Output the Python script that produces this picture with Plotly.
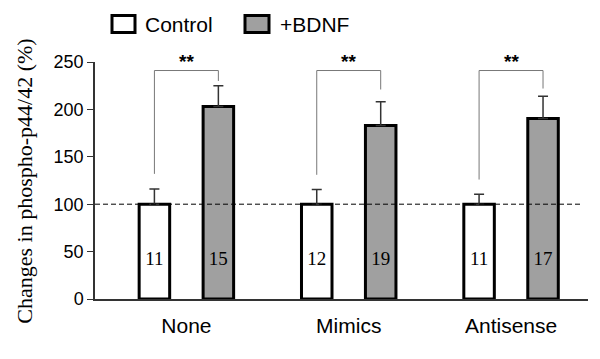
import plotly.graph_objects as go

categories = ["None", "Mimics", "Antisense"]
control_vals = [100, 100, 100]
control_err = [16, 15.5, 10.5]
bdnf_vals = [203, 183, 190.5]
bdnf_err = [22, 25, 23.5]
control_n = ["11", "12", "11"]
bdnf_n = ["15", "19", "17"]
sig_labels = ["**", "**", "**"]
bracket_top = [241, 241, 241]
bracket_left_bottom = [132, 131, 126]
bracket_right_bottom = [230, 221, 222]
y_ticks = [0, 50, 100, 150, 200, 250]

SANS = "Liberation Sans, Arial"
SERIF = "Liberation Serif, Times New Roman"

OFF = 0.197
BW = 0.188
xs = list(range(len(categories)))
xc = [x - OFF for x in xs]
xb = [x + OFF for x in xs]

# page offset (body margin) compensation
O = 8
L, R, T, B = 95 - O, 588 - O, 61.5 - O, 299 - O
def px(x):
    return (x - O - L) / (R - L)
def py(y):
    return (B - (y - O)) / (B - T)

fig = go.Figure()
fig.add_trace(go.Bar(
    x=xs, y=control_vals, offset=-OFF - BW / 2, width=BW,
    marker=dict(color="white", line=dict(color="black", width=3)),
    error_y=dict(type="data", symmetric=False, array=control_err,
                 arrayminus=[0] * 3, color="#333", thickness=1.5, width=5),
    showlegend=False,
))
fig.add_trace(go.Bar(
    x=xs, y=bdnf_vals, offset=OFF - BW / 2, width=BW,
    marker=dict(color="#a0a0a0", line=dict(color="black", width=3)),
    error_y=dict(type="data", symmetric=False, array=bdnf_err,
                 arrayminus=[0] * 3, color="#333", thickness=1.5, width=5),
    showlegend=False,
))
fig.add_trace(go.Scatter(
    x=xc + xb, y=[41] * 6, mode="text", text=control_n + bdnf_n,
    textfont=dict(family=SERIF, size=19, color="black"),
    showlegend=False, hoverinfo="skip", cliponaxis=False,
))

shapes = []
annotations = []
for i in range(3):
    shapes.append(dict(
        type="path", xref="x", yref="y",
        path=f"M {xc[i]},{bracket_left_bottom[i]} L {xc[i]},{bracket_top[i]} "
             f"L {xb[i]},{bracket_top[i]} L {xb[i]},{bracket_right_bottom[i]}",
        line=dict(color="#777", width=1),
    ))
    annotations.append(dict(
        x=(xc[i] + xb[i]) / 2, y=bracket_top[i], xref="x", yref="y",
        text="<b>" + sig_labels[i] + "</b>", showarrow=False, yanchor="middle", yshift=9,
        font=dict(family=SANS, size=19, color="black"),
    ))

shapes.append(dict(type="line", xref="paper", yref="y", x0=0, x1=px(582),
                   y0=100, y1=100, line=dict(color="black", width=1, dash="5px,3px")))

# legend
for (x0, x1, fill, label, tx) in [(112, 135, "white", "Control", 143),
                                   (245, 269, "#a0a0a0", "+BDNF", 278)]:
    shapes.append(dict(type="rect", xref="paper", yref="paper",
                       x0=px(x0), x1=px(x1), y0=py(32), y1=py(15),
                       fillcolor=fill, line=dict(color="black", width=3)))
    annotations.append(dict(x=px(tx), y=py(24), xref="paper", yref="paper",
                            text=label, showarrow=False, xanchor="left", yanchor="middle",
                            font=dict(family=SANS, size=21, color="black")))

# y title
annotations.append(dict(x=px(25), y=py(181.5), xref="paper", yref="paper",
                        text="Changes in phospho-p44/42 (%)", textangle=-90,
                        showarrow=False, xanchor="center", yanchor="middle",
                        font=dict(family=SERIF, size=22, color="black")))

fig.update_layout(
    width=600, height=359,
    margin=dict(l=L, r=600 - R, t=T, b=359 - B),
    plot_bgcolor="white", paper_bgcolor="white",
    barmode="overlay",
    shapes=shapes, annotations=annotations,
    xaxis=dict(range=[-0.563, 2.474], tickvals=xs, ticktext=categories,
               showline=True, linecolor="#333", linewidth=1.5, ticks="",
               showgrid=False, zeroline=False, ticklabelstandoff=7,
               tickfont=dict(family=SANS, size=21, color="black")),
    yaxis=dict(range=[0, 250], tickvals=y_ticks, showline=True, linecolor="#333",
               linewidth=1.5, ticks="outside", ticklen=6, tickcolor="#333",
               showgrid=False, zeroline=False,
               tickfont=dict(family=SANS, size=18, color="black")),
)

fig.write_html("out.html")
